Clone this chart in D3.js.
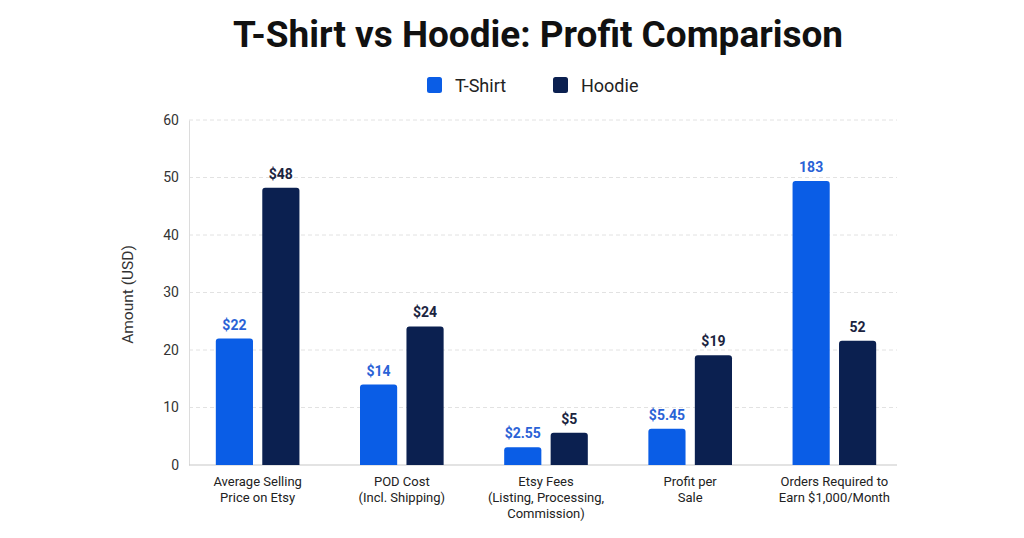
<!DOCTYPE html>
<html><head><meta charset="utf-8">
<script src="https://cdn.jsdelivr.net/npm/d3@7"></script>
<style>body{margin:0;background:#fff;} svg{display:block;}</style>
</head><body>
<svg id="c" width="1024" height="538"></svg>
<script>
const categories = [
  ["Average Selling", "Price on Etsy"],
  ["POD Cost", "(Incl. Shipping)"],
  ["Etsy Fees", "(Listing, Processing,", "Commission)"],
  ["Profit per", "Sale"],
  ["Orders Required to", "Earn $1,000/Month"]
];
const series = ["T-Shirt", "Hoodie"];
const tshirtValues = [22, 14, 3.1, 6.3, 49.4];
const hoodieValues = [48.2, 24.1, 5.6, 19.1, 21.6];
const tshirtLabels = ["$22", "$14", "$2.55", "$5.45", "183"];
const hoodieLabels = ["$48", "$24", "$5", "$19", "52"];
const yTicks = [0, 10, 20, 30, 40, 50, 60];

const colors = {"T-Shirt": "#0a5de6", "Hoodie": "#0b2050"};
const labelColors = {"T-Shirt": "#2a62d6", "Hoodie": "#1b2440"};
const font = "Roboto, 'Open Sans', sans-serif";

const svg = d3.select("#c");
const mLeft = 189, mRight = 903, axisEnd = 897, mTop = 120, mBottom = 465;

const x0 = d3.scaleBand().domain(d3.range(categories.length)).range([mLeft, mRight]).paddingInner(0.42).paddingOuter(0.186);
const x1 = d3.scaleBand().domain(series).range([0, x0.bandwidth()]).paddingInner(0.2);
const y = d3.scaleLinear().domain([0, 60]).range([mBottom, mTop]);

// title
svg.append("text").attr("x", 538).attr("y", 47).attr("text-anchor", "middle")
  .attr("font-family", font).attr("font-weight", 700).attr("font-size", 36)
  .attr("fill", "#111").attr("textLength", 610).attr("lengthAdjust", "spacingAndGlyphs")
  .text("T-Shirt vs Hoodie: Profit Comparison");

// legend
const legendX = [427, 553];
series.forEach((s, i) => {
  const g = svg.append("g").attr("transform", `translate(${legendX[i]},77)`);
  g.append("rect").attr("width", 15).attr("height", 16).attr("rx", 2.5).attr("fill", colors[s]);
  g.append("text").attr("x", 28).attr("y", 14.5).attr("font-family", font).attr("font-size", 18)
    .attr("fill", "#222").text(s);
});

// gridlines
svg.append("g").selectAll("line").data(yTicks.filter(t => t > 0)).join("line")
  .attr("x1", mLeft).attr("x2", axisEnd).attr("y1", d => y(d)).attr("y2", d => y(d))
  .attr("stroke", "#e2e2e2").attr("stroke-width", 1).attr("stroke-dasharray", "4,3");

// y axis
const yAxis = d3.axisLeft(y).tickValues(yTicks).tickSize(0).tickPadding(10);
const ya = svg.append("g").attr("transform", `translate(${mLeft},0)`).call(yAxis);
ya.select(".domain").attr("stroke", "#dcdcdc");
ya.selectAll("text").attr("font-family", font).attr("font-size", 14).attr("fill", "#333");

// x axis baseline
svg.append("line").attr("x1", mLeft).attr("x2", axisEnd).attr("y1", mBottom).attr("y2", mBottom)
  .attr("stroke", "#c8c8c8").attr("stroke-width", 1.2);

// y label
svg.append("text").attr("transform", `translate(133,${(mTop + mBottom) / 2 + 2}) rotate(-90)`)
  .attr("text-anchor", "middle").attr("font-family", font).attr("font-size", 15.5).attr("fill", "#333")
  .text("Amount (USD)");

// bars
const data = [];
categories.forEach((c, i) => {
  data.push({i, s: "T-Shirt", v: tshirtValues[i], l: tshirtLabels[i]});
  data.push({i, s: "Hoodie", v: hoodieValues[i], l: hoodieLabels[i]});
});
const r = 3;
function barPath(d) {
  const x = x0(d.i) + x1(d.s), w = x1.bandwidth(), yt = y(d.v), yb = y(0);
  return `M${x},${yb}V${yt + r}Q${x},${yt} ${x + r},${yt}H${x + w - r}Q${x + w},${yt} ${x + w},${yt + r}V${yb}Z`;
}
svg.append("g").selectAll("path").data(data).join("path")
  .attr("d", barPath).attr("fill", d => colors[d.s]);

svg.append("g").selectAll("text").data(data).join("text")
  .attr("x", d => x0(d.i) + x1(d.s) + x1.bandwidth() / 2)
  .attr("y", d => y(d.v) - 9)
  .attr("text-anchor", "middle").attr("font-family", font).attr("font-weight", 700).attr("font-size", 14)
  .attr("fill", d => labelColors[d.s]).text(d => d.l);

// x labels
const xl = svg.append("g").selectAll("text").data(categories).join("text")
  .attr("text-anchor", "middle").attr("font-family", font).attr("font-size", 13).attr("fill", "#222")
  .attr("x", (d, i) => x0(i) + x0.bandwidth() / 2).attr("y", 486);
xl.selectAll("tspan").data(d => d).join("tspan")
  .attr("x", function () { return this.parentNode.getAttribute("x"); })
  .attr("dy", (d, j) => j === 0 ? 0 : 16).text(d => d);
</script>
</body></html>
